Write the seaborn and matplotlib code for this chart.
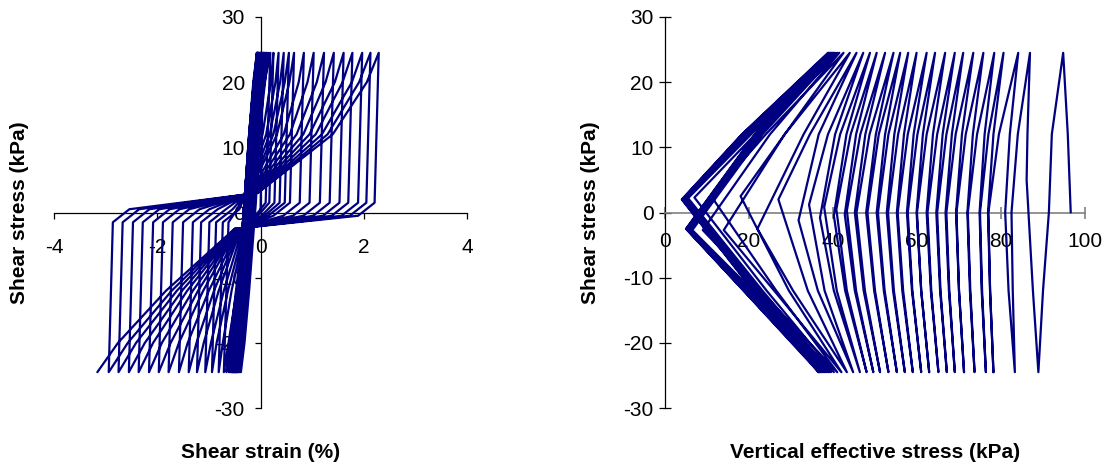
import matplotlib
matplotlib.use("Agg")
import matplotlib.pyplot as plt
import numpy as np
import pandas as pd
import seaborn as sns

sns.set_style("white")
plt.rcParams['font.family'] = ['Liberation Sans', 'DejaVu Sans']
plt.rcParams['axes.unicode_minus'] = False
plt.rcParams['text.color'] = 'black'
plt.rcParams['axes.labelcolor'] = 'black'

NAVY = "#000080"

# ---------------- data ----------------
tau_peak_top = 24.5
tau_peak_bot = -24.5

# --- shear strain (%) per cycle ---
strain_start = 0.0
gam_top = [0.05, 0.00, -0.03, -0.05, -0.06, -0.07, -0.07, -0.06, -0.05, -0.04,
           -0.02, 0.00, 0.02, 0.04, 0.06, 0.08, 0.10, 0.12, 0.15, 0.19,
           0.25, 0.35, 0.45, 0.55, 0.65, 0.84, 1.03, 1.23, 1.42, 1.61,
           1.78, 1.97, 2.13, 2.29]
gam_bot = [-0.38, -0.40, -0.42, -0.44, -0.45, -0.46, -0.47, -0.48, -0.49, -0.50,
           -0.51, -0.52, -0.53, -0.54, -0.55, -0.56, -0.58, -0.61, -0.66, -0.71,
           -0.81, -0.94, -1.07, -1.23, -1.39, -1.58, -1.78, -1.97, -2.16, -2.36,
           -2.55, -2.75, -2.94, -3.16]

# unloading branch (top -> bottom): strain at shear stress levels below
unl_tau = [1.5, -0.5, -2.5, -12.0, -20.0]
unl_g1 = [-0.09, -0.13, -0.15, -0.17, -0.18, -0.19, -0.20, -0.20, -0.20, -0.20,
          -0.19, -0.18, -0.18, -0.17, -0.17, -0.16, -0.16, -0.16, -0.17, 0.10,
          0.17, 0.27, 0.37, 0.47, 0.57, 0.76, 0.95, 1.15, 1.34, 1.53,
          1.70, 1.89, 2.05, 2.21]
unl_g2 = [-0.11, -0.14, -0.17, -0.19, -0.20, -0.21, -0.21, -0.21, -0.21, -0.21,
          -0.21, -0.21, -0.20, -0.20, -0.19, -0.19, -0.19, -0.19, -0.20, -0.10,
          -0.05, 0.02, 0.08, 0.15, 0.25, 0.44, 0.63, 0.83, 1.02, 1.21,
          1.38, 1.57, 1.73, 1.89]
unl_g3 = [-0.13, -0.16, -0.19, -0.21, -0.22, -0.23, -0.23, -0.23, -0.23, -0.23,
          -0.23, -0.23, -0.22, -0.22, -0.22, -0.21, -0.22, -0.22, -0.24, -0.28,
          -0.30, -0.32, -0.35, -0.38, -0.40, -0.42, -0.44, -0.45, -0.46, -0.47,
          -0.48, -0.49, -0.50, -0.50]
unl_g4 = [-0.22, -0.25, -0.27, -0.29, -0.30, -0.31, -0.32, -0.32, -0.33, -0.33,
          -0.34, -0.34, -0.34, -0.34, -0.34, -0.35, -0.36, -0.37, -0.40, -0.46,
          -0.56, -0.63, -0.71, -0.81, -0.90, -1.00, -1.11, -1.21, -1.31, -1.42,
          -1.52, -1.62, -1.72, -1.83]
unl_g5 = [-0.31, -0.33, -0.35, -0.37, -0.38, -0.39, -0.40, -0.41, -0.42, -0.43,
          -0.44, -0.44, -0.45, -0.46, -0.46, -0.47, -0.49, -0.51, -0.56, -0.62,
          -0.73, -0.85, -0.96, -1.10, -1.24, -1.41, -1.58, -1.74, -1.91, -2.08,
          -2.24, -2.41, -2.57, -2.76]

# loading branch (bottom -> next top): strain at shear stress levels below
lod_tau = [-1.5, 0.5, 3.0, 12.0, 20.0]
lod_g1 = [-0.26, -0.29, -0.31, -0.32, -0.33, -0.34, -0.34, -0.34, -0.34, -0.34,
          -0.33, -0.33, -0.32, -0.32, -0.32, -0.31, -0.31, -0.31, -0.32, -0.62,
          -0.73, -0.86, -0.99, -1.15, -1.31, -1.50, -1.70, -1.89, -2.08, -2.28,
          -2.47, -2.67, -2.86]
lod_g2 = [-0.25, -0.27, -0.29, -0.31, -0.32, -0.32, -0.32, -0.32, -0.32, -0.32,
          -0.31, -0.30, -0.30, -0.29, -0.29, -0.28, -0.28, -0.28, -0.29, -0.45,
          -0.41, -0.54, -0.67, -0.83, -0.99, -1.18, -1.38, -1.57, -1.76, -1.96,
          -2.15, -2.35, -2.54]
lod_g3 = [-0.23, -0.25, -0.27, -0.29, -0.30, -0.30, -0.30, -0.30, -0.30, -0.29,
          -0.28, -0.28, -0.27, -0.26, -0.26, -0.25, -0.25, -0.24, -0.24, -0.30,
          -0.28, -0.26, -0.24, -0.22, -0.20, -0.18, -0.16, -0.14, -0.12, -0.10,
          -0.08, -0.06, -0.05]
lod_g4 = [-0.15, -0.17, -0.19, -0.21, -0.22, -0.22, -0.22, -0.21, -0.21, -0.19,
          -0.18, -0.17, -0.16, -0.14, -0.13, -0.12, -0.11, -0.09, -0.08, 0.04,
          0.11, 0.18, 0.25, 0.32, 0.45, 0.57, 0.70, 0.83, 0.95, 1.07,
          1.19, 1.30, 1.40]
lod_g5 = [-0.07, -0.09, -0.11, -0.12, -0.13, -0.14, -0.13, -0.12, -0.11, -0.09,
          -0.08, -0.06, -0.04, -0.03, -0.01, 0.01, 0.03, 0.05, 0.08, 0.20,
          0.29, 0.38, 0.47, 0.56, 0.74, 0.91, 1.09, 1.26, 1.44, 1.59,
          1.77, 1.91, 2.06]

# --- vertical effective stress (kPa) per cycle ---
sig_start = [96.6, 95.9]
sig_start_tau = [0.0, 12.0]
sig_top = [94.8, 86.9, 84.1, 80.6, 78.4, 75.8, 73.4, 71.0, 69.0, 66.7,
           64.3, 62.3, 59.9, 57.9, 56.0, 54.4, 52.4, 50.4, 48.8, 47.2,
           45.6, 44.0, 42.5, 41.5, 41.0, 40.5, 40.2, 40.0, 39.8, 39.6,
           39.4, 39.2, 39.0, 38.8]
sig_bot = [88.9, 83.3, 78.2, 76.4, 73.7, 71.2, 69.0, 67.1, 65.1, 62.9,
           61.0, 59.0, 57.1, 55.2, 53.2, 51.2, 49.6, 48.0, 46.4, 44.8,
           43.3, 42.0, 41.0, 40.2, 39.5, 39.0, 38.5, 38.0, 37.6, 37.3,
           37.0, 36.8, 36.6, 36.5]
# unloading branch: sigma' at tau=+12, leftmost point (sigma', tau), sigma' at tau=-12
unl_s12 = [92.1, 84.0, 79.5, 77.0, 74.3, 71.6, 69.2, 67.0, 64.8, 62.3,
           60.1, 57.8, 55.5, 53.2, 50.9, 48.7, 46.5, 44.2, 41.7, 38.8,
           34.5, 28.5, 24.0, 21.5, 20.5, 20.0, 19.6, 19.3, 19.0, 18.8,
           18.7, 18.5, 18.4, 18.3]
unl_v_sig = [91.4, 82.5, 77.0, 75.0, 72.1, 69.4, 67.0, 64.8, 62.5, 60.0,
             57.8, 55.4, 53.1, 50.7, 48.2, 45.6, 43.3, 40.8, 37.9, 34.3,
             27.0, 18.0, 11.0, 7.0, 5.5, 5.0, 4.8, 4.6, 4.5, 4.4,
             4.3, 4.2, 4.1, 4.0]
unl_v_tau = [0.0, 0.0, 0.0, 0.0, 0.0, 0.0, 0.0, 0.0, 0.0, 0.0,
             0.0, 0.0, 0.0, 0.0, 0.0, 0.0, 0.3, 0.5, 0.8, 1.2,
             2.0, 2.5, 2.5, 2.3, 2.2, 2.1, 2.0, 2.0, 2.0, 2.0,
             2.0, 2.0, 2.0, 2.0]
unl_sm12 = [90.0, 82.8, 77.4, 75.5, 72.7, 70.0, 67.7, 65.6, 63.4, 61.0,
            58.9, 56.7, 54.5, 52.3, 50.0, 47.6, 45.5, 43.3, 40.9, 38.0,
            34.0, 29.5, 26.5, 24.2, 23.2, 22.6, 22.2, 21.9, 21.7, 21.5,
            21.4, 21.2, 21.1, 21.0]
# loading branch: sigma' at tau=-12, leftmost point (sigma', tau), sigma' at tau=+12
lod_sm12 = [87.6, 81.8, 77.4, 75.4, 72.6, 70.0, 67.6, 65.5, 63.3, 61.0,
            58.8, 56.5, 54.3, 52.1, 49.8, 47.3, 45.2, 42.9, 40.2, 36.4,
            30.5, 26.0, 22.7, 20.9, 20.2, 19.9, 19.6, 19.4, 19.2, 19.0,
            18.8, 18.8, 18.7]
lod_v_sig = [86.1, 81.0, 76.9, 74.9, 72.0, 69.3, 66.8, 64.6, 62.3, 59.9,
             57.6, 55.2, 52.8, 50.4, 47.9, 45.2, 42.8, 40.2, 36.9, 31.8,
             22.0, 14.0, 9.0, 6.5, 6.0, 5.8, 5.6, 5.5, 5.4, 5.3,
             5.2, 5.1, 5.0]
lod_v_tau = [5.0, 0.0, 0.0, 0.0, 0.0, 0.0, 0.0, 0.0, 0.0, 0.0,
             0.0, 0.0, 0.0, 0.0, 0.0, 0.0, -0.3, -0.5, -0.8, -1.2,
             -2.5, -2.7, -2.7, -2.7, -2.8, -2.8, -2.7, -2.7, -2.6, -2.6,
             -2.6, -2.5, -2.5]
lod_s12 = [86.3, 82.1, 78.2, 76.1, 73.3, 70.7, 68.3, 66.1, 63.8, 61.4,
           59.2, 56.9, 54.6, 52.4, 50.2, 47.7, 45.5, 43.2, 40.5, 36.6,
           33.0, 28.5, 25.0, 23.2, 22.6, 22.3, 22.1, 21.9, 21.8, 21.7,
           21.6, 21.5, 21.4]

x_ticks_left = [-4, -2, 0, 2, 4]
x_ticks_right = [0, 20, 40, 60, 80, 100]
y_ticks = [-30, -20, -10, 0, 10, 20, 30]

# ---------------- build the continuous test paths ----------------
n_cyc = len(gam_top)

strain_x, strain_y = [strain_start], [0.0]
for k in range(n_cyc):
    strain_x.append(gam_top[k]); strain_y.append(tau_peak_top)
    for g, t in zip([unl_g1[k], unl_g2[k], unl_g3[k], unl_g4[k], unl_g5[k]], unl_tau):
        strain_x.append(g); strain_y.append(t)
    strain_x.append(gam_bot[k]); strain_y.append(tau_peak_bot)
    if k < n_cyc - 1:
        for g, t in zip([lod_g1[k], lod_g2[k], lod_g3[k], lod_g4[k], lod_g5[k]], lod_tau):
            strain_x.append(g); strain_y.append(t)
df_strain = pd.DataFrame({"strain": strain_x, "tau": strain_y})

sig_x, sig_y = list(sig_start), list(sig_start_tau)
for k in range(n_cyc):
    sig_x += [sig_top[k], unl_s12[k], unl_v_sig[k], unl_sm12[k], sig_bot[k]]
    sig_y += [tau_peak_top, 12.0, unl_v_tau[k], -12.0, tau_peak_bot]
    if k < n_cyc - 1:
        sig_x += [lod_sm12[k], lod_v_sig[k], lod_s12[k]]
        sig_y += [-12.0, lod_v_tau[k], 12.0]
df_sig = pd.DataFrame({"sig": sig_x, "tau": sig_y})

# ---------------- figure ----------------
W, H = 1105, 467
fig = plt.figure(figsize=(W / 100, H / 100), dpi=100, facecolor="white")

ax1 = fig.add_axes([54 / W, 1 - 408 / H, 413 / W, 391 / H])
ax2 = fig.add_axes([665 / W, 1 - 408 / H, 420 / W, 391 / H])

sns.lineplot(data=df_strain, x="strain", y="tau", sort=False, estimator=None,
             color=NAVY, linewidth=1.6, ax=ax1, zorder=3)
sns.lineplot(data=df_sig, x="sig", y="tau", sort=False, estimator=None,
             color=NAVY, linewidth=1.6, ax=ax2, zorder=3)

# left axes
ax1.set_xlim(-4, 4)
ax1.set_ylim(-30, 30)
ax1.spines['left'].set_position(('data', 0))
ax1.spines['bottom'].set_position(('data', 0))
for s in ['top', 'right']:
    ax1.spines[s].set_visible(False)
for s in ['left', 'bottom']:
    ax1.spines[s].set_color('black')
    ax1.spines[s].set_linewidth(0.9)
ax1.set_xticks(x_ticks_left)
ax1.set_xticklabels([str(v) for v in x_ticks_left])
ax1.set_yticks(y_ticks)
ax1.set_yticklabels([str(v) for v in y_ticks])
ax1.tick_params(axis='x', bottom=True, direction='out', length=4.3, width=0.9,
                color='black', pad=14, labelsize=15, labelcolor='black')
ax1.tick_params(axis='y', left=True, direction='out', length=4.3, width=0.9,
                color='black', pad=7, labelsize=15, labelcolor='black')
ax1.set_xlabel("Shear strain (%)", fontsize=15, fontweight='bold', color='black')
ax1.set_ylabel("Shear stress (kPa)", fontsize=15, fontweight='bold', color='black')
ax1.xaxis.set_label_coords(0.5, (408 - 453) / 391)
ax1.xaxis.label.set_va('center')
ax1.yaxis.set_label_coords((20 - 54) / 413, 0.5)
ax1.yaxis.label.set_va('center')

# right axes
ax2.set_xlim(0, 100)
ax2.set_ylim(-30, 30)
ax2.spines['left'].set_position(('data', 0))
ax2.spines['bottom'].set_position(('data', 0))
for s in ['top', 'right']:
    ax2.spines[s].set_visible(False)
ax2.spines['left'].set_color('black')
ax2.spines['left'].set_linewidth(0.9)
ax2.spines['bottom'].set_color('#808080')
ax2.spines['bottom'].set_linewidth(1.2)
ax2.set_xticks(x_ticks_right)
ax2.set_xticklabels([str(v) for v in x_ticks_right])
ax2.set_yticks(y_ticks)
ax2.set_yticklabels([str(v) for v in y_ticks])
ax2.tick_params(axis='x', bottom=True, direction='inout', length=8.6, width=1.2,
                color='#808080', pad=10, labelsize=15, labelcolor='black')
ax2.tick_params(axis='y', left=True, direction='inout', length=8.6, width=0.9,
                color='black', pad=4, labelsize=15, labelcolor='black')
ax2.set_xlabel("Vertical effective stress (kPa)", fontsize=15, fontweight='bold', color='black')
ax2.set_ylabel("Shear stress (kPa)", fontsize=15, fontweight='bold', color='black')
ax2.xaxis.set_label_coords(0.5, (408 - 453) / 391)
ax2.xaxis.label.set_va('center')
ax2.yaxis.set_label_coords((591 - 665) / 420, 0.5)
ax2.yaxis.label.set_va('center')

fig.savefig("out.png", dpi=100, facecolor="white")
